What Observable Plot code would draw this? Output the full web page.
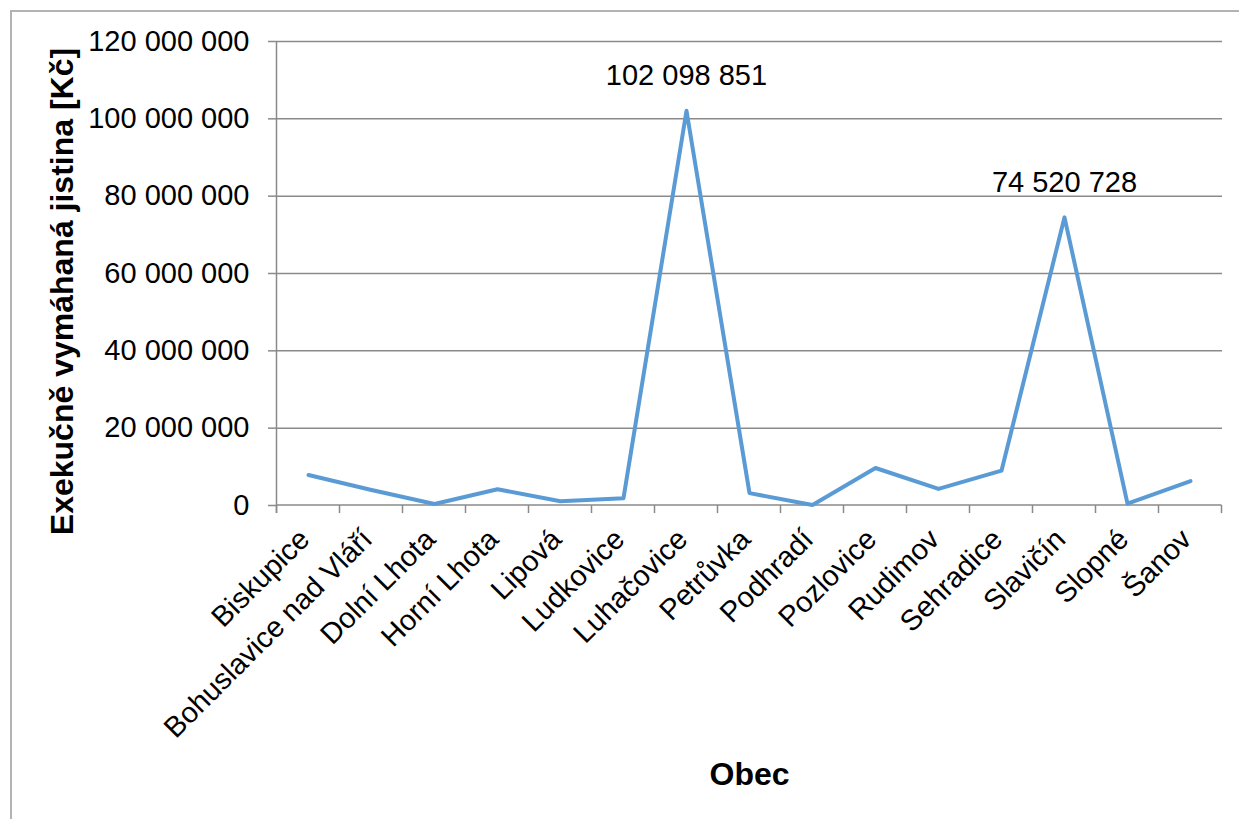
<!DOCTYPE html>
<html>
<head>
<meta charset="utf-8">
<script src="https://cdn.jsdelivr.net/npm/d3@7"></script>
<script src="https://cdn.jsdelivr.net/npm/@observablehq/plot@0.6"></script>
<style>
  html, body { margin: 0; padding: 0; background: #fff; }
  #wrap { position: relative; width: 1239px; height: 819px; overflow: hidden; background: #fff; }
  #frame { position: absolute; left: 10px; top: 10px; width: 1400px; height: 1000px;
           border-top: 2px solid #b3b3b3; border-left: 2px solid #b3b3b3; }
  #chart { position: absolute; left: 0; top: 0; }
</style>
</head>
<body>
<div id="wrap"><div id="frame"></div><div id="chart"></div></div>
<script>
// ---- data ----
const obce = ["Biskupice", "Bohuslavice nad Vláří", "Dolní Lhota", "Horní Lhota", "Lipová",
  "Ludkovice", "Luhačovice", "Petrůvka", "Podhradí", "Pozlovice", "Rudimov", "Sehradice",
  "Slavičín", "Slopné", "Šanov"];
const jistina = [7900000, 4000000, 400000, 4200000, 1100000, 1900000, 102098851, 3200000,
  150000, 9700000, 4300000, 9000000, 74520728, 500000, 6300000];
const yTicks = [0, 20000000, 40000000, 60000000, 80000000, 100000000, 120000000];
const labelled = ["Luhačovice", "Slavičín"];
const xTitle = "Obec";
const yTitle = "Exekučně vymáhaná jistina [Kč]";

const data = obce.map((o, i) => ({obec: o, value: jistina[i]}));
const fmt = d => d3.format(",")(d).replace(/,/g, " ");
const gray = "#8a8a8a";

// custom mark: x-axis boundary ticks, x baseline and y axis line
function axesLines(...args) {
  const scales = args.find(a => a && typeof a.x === "function" && typeof a.y === "function");
  const x = scales.x, y = scales.y;
  const centers = obce.map(c => x(c));
  const step = centers[1] - centers[0];
  const bounds = centers.map(c => c - step / 2).concat([centers[centers.length - 1] + step / 2]);
  const y0 = y(0), yTop = y(yTicks[yTicks.length - 1]);
  const g = d3.create("svg:g").attr("stroke", gray).attr("stroke-width", 1.5).attr("fill", "none");
  g.append("line").attr("x1", bounds[0]).attr("x2", bounds[bounds.length - 1]).attr("y1", y0).attr("y2", y0);
  g.append("line").attr("x1", bounds[0]).attr("x2", bounds[0]).attr("y1", yTop).attr("y2", y0 + 8);
  for (const b of bounds) {
    g.append("line").attr("x1", b).attr("x2", b).attr("y1", y0).attr("y2", y0 + 8);
  }
  return g.node();
}

const chart = Plot.plot({
  width: 1239,
  height: 819,
  marginLeft: 276,
  marginRight: 17,
  marginTop: 41,
  marginBottom: 314,
  style: {fontFamily: "'Liberation Sans', Arial, sans-serif", fontSize: "29px", color: "#000", background: "transparent", overflow: "visible"},
  x: {type: "point", domain: obce, padding: 0.5, align: 0.5, axis: null},
  y: {domain: [0, 120000000], axis: null},
  marks: [
    Plot.ruleY(yTicks.slice(1), {stroke: gray, strokeWidth: 1.5}),
    Plot.axisY(yTicks, {tickSize: 8, tickPadding: 19, tickFormat: fmt, fontSize: 29, stroke: gray, strokeWidth: 1.5, label: null}),
    axesLines,
    Plot.line(data, {x: "obec", y: "value", stroke: "#5B9BD5", strokeWidth: 4}),
    Plot.text(data.filter(d => labelled.includes(d.obec)), {x: "obec", y: "value", text: d => fmt(d.value), dy: -35, fontSize: 29, fill: "#000"}),
    Plot.text(obce, {x: d => d, frameAnchor: "bottom", rotate: -45, textAnchor: "end", lineAnchor: "middle", dx: -4, dy: 29, fontSize: 29, fill: "#000"}),
    Plot.text([xTitle], {text: d => d, frameAnchor: "bottom", textAnchor: "middle", lineAnchor: "middle", dy: 269, fontSize: 32, fontWeight: "bold", fill: "#000"}),
    Plot.text([yTitle], {text: d => d, frameAnchor: "left", textAnchor: "middle", lineAnchor: "middle", dx: -214, dy: 18, rotate: -90, fontSize: 32, fontWeight: "bold", fill: "#000"})
  ]
});
document.getElementById("chart").appendChild(chart);
</script>
</body>
</html>
